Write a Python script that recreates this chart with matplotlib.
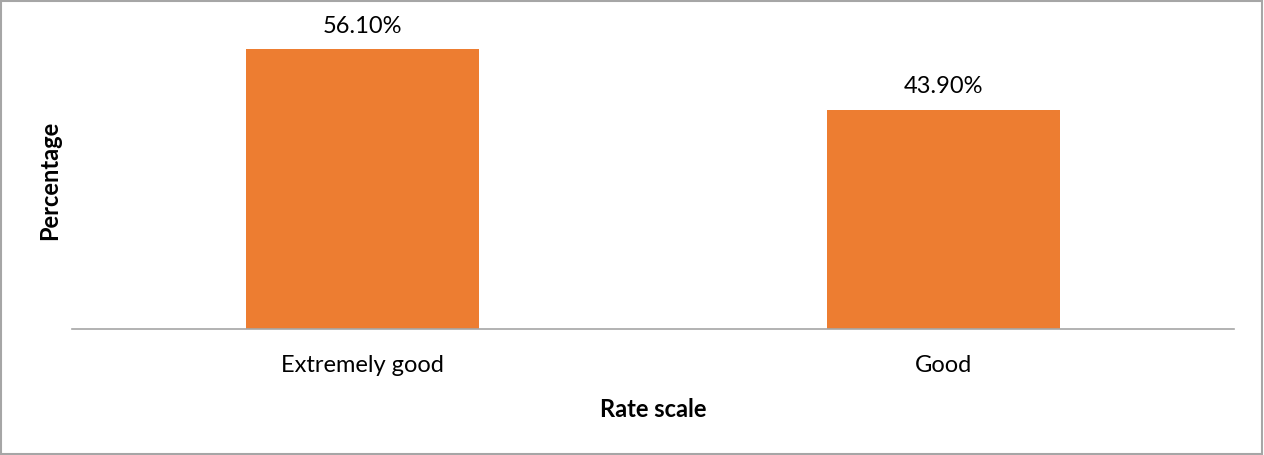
import matplotlib.pyplot as plt
from matplotlib.patches import Rectangle

plt.rcParams['font.family'] = ['Lato', 'DejaVu Sans']

categories = ['Extremely good', 'Good']
percentages = [56.10, 43.90]
labels = ['56.10%', '43.90%']

fig = plt.figure(figsize=(12.64, 4.56), dpi=100)
ax = fig.add_axes([72 / 1264, 126 / 456, 1162 / 1264, 299 / 456])

x = range(len(categories))
ax.bar(x, percentages, width=0.4, color='#ED7D31', zorder=2)
for xi, v, lab in zip(x, percentages, labels):
    ax.annotate(lab, (xi, v), xytext=(0, 10), textcoords='offset points',
                ha='center', va='bottom', fontsize=17, color='#000000')

ax.set_xlim(-0.5, 1.5)
ax.set_ylim(0, 60)
ax.set_xticks(list(x))
ax.set_xticklabels(categories, fontsize=17)
ax.tick_params(axis='x', length=0, pad=18)
ax.set_yticks([])
for side in ['top', 'right', 'left']:
    ax.spines[side].set_visible(False)
ax.spines['bottom'].set_color('#A6A6A6')
ax.spines['bottom'].set_linewidth(1.2)

ax.set_xlabel('Rate scale', fontsize=17, fontweight='bold', labelpad=16)
ax.set_ylabel('Percentage', fontsize=17, fontweight='bold', labelpad=8)

# outer chart border
fig.patches.append(Rectangle((1 / 1264, 1 / 456), 1261 / 1264, 453 / 456,
                             transform=fig.transFigure, fill=False,
                             edgecolor='#A6A6A6', linewidth=1.5))

fig.savefig('out.png', dpi=100)
